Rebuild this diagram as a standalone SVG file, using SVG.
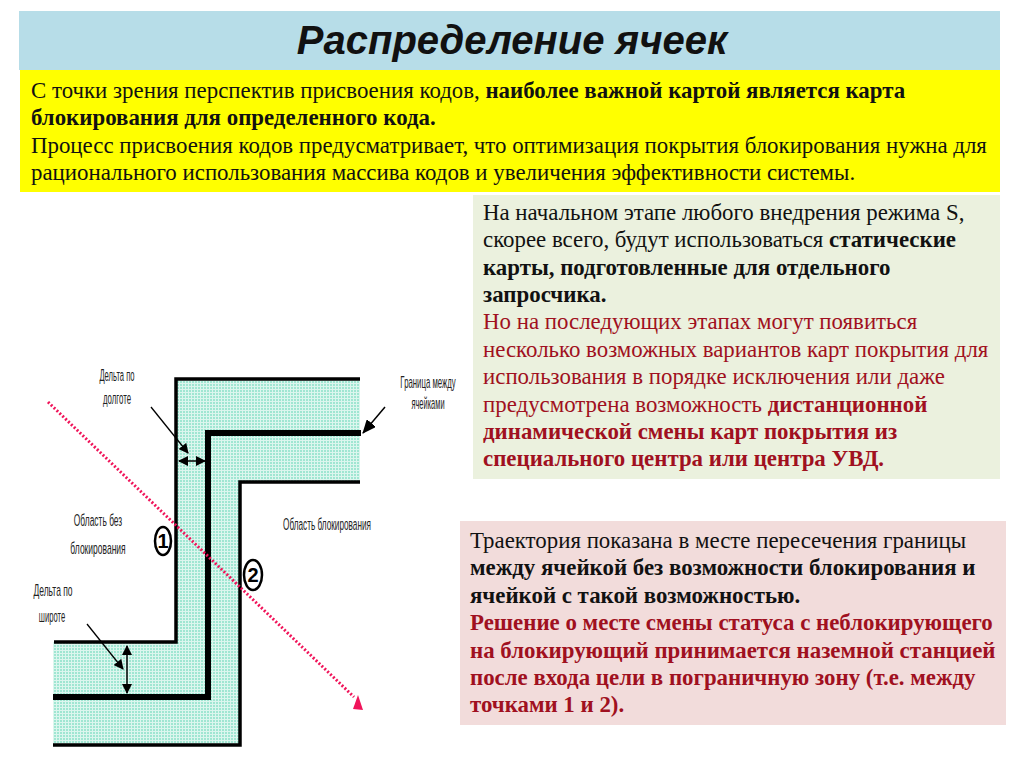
<svg xmlns="http://www.w3.org/2000/svg" width="1024" height="767" viewBox="0 0 1024 767">
<style>
.t{font-family:"Liberation Serif",serif;font-size:22.87px;fill:#111}
.b{font-weight:bold}
.r{fill:#a01020}
.s{font-family:"Liberation Sans",sans-serif;font-size:17px;fill:#222;text-anchor:middle}
.d{font-family:"Liberation Sans",sans-serif;font-size:20px;font-weight:bold;text-anchor:middle;fill:#000}
.l{fill:none;stroke:#000}
.o{fill:#fff;stroke:#000;stroke-width:2.5}
</style>
<defs>
<pattern id="h" width="3" height="3" patternUnits="userSpaceOnUse"><rect width="3" height="3" fill="#dcf6ee"/><rect width="2" height="2" fill="#a0e6d2"/></pattern>
<marker id="a" markerWidth="10" markerHeight="10" refX="9" refY="5" orient="auto-start-reverse" markerUnits="userSpaceOnUse"><path d="M0 0L10 5L0 10Z" fill="#000"/></marker>
<marker id="c" markerWidth="14" markerHeight="12" refX="13" refY="6" orient="auto" markerUnits="userSpaceOnUse"><path d="M0 0L14 6L0 12Z" fill="#000"/></marker>
</defs>
<rect width="1024" height="767" fill="#fff"/>
<g id="title"><rect x="19" y="11" width="981" height="59" fill="#b7dde8"/><text x="512" y="54" font-family="Liberation Sans,sans-serif" font-size="40" font-weight="bold" font-style="italic" text-anchor="middle" fill="#111">Распределение ячеек</text></g>
<g id="intro"><rect x="20" y="70" width="980" height="122" fill="#ffff00"/>
<text class="t" x="31" y="98">С точки зрения перспектив присвоения кодов, <tspan class="b">наиболее важной картой является карта</tspan></text>
<text class="t b" x="31" y="125">блокирования для определенного кода.</text>
<text class="t" x="31" y="153">Процесс присвоения кодов предусматривает, что оптимизация покрытия блокирования нужна для</text>
<text class="t" x="31" y="180">рационального использования массива кодов и увеличения эффективности системы.</text></g>
<g id="note1"><rect x="473" y="195" width="527" height="284" fill="#ebf1de"/>
<text class="t" x="483" y="220">На начальном этапе любого внедрения режима S,</text>
<text class="t" x="483" y="247">скорее всего, будут использоваться <tspan class="b">статические</tspan></text>
<text class="t b" x="483" y="275">карты, подготовленные для отдельного</text>
<text class="t b" x="483" y="302">запросчика.</text>
<text class="t r" x="483" y="329">Но на последующих этапах могут появиться</text>
<text class="t r" x="483" y="357">несколько возможных вариантов карт покрытия для</text>
<text class="t r" x="483" y="384">использования в порядке исключения или даже</text>
<text class="t r" x="483" y="412">предусмотрена возможность <tspan class="b">дистанционной</tspan></text>
<text class="t r b" x="483" y="439">динамической смены карт покрытия из</text>
<text class="t r b" x="483" y="466">специального центра или центра УВД.</text></g>
<g id="note2"><rect x="460" y="521" width="546" height="204" fill="#f2dcdb"/>
<text class="t" x="470" y="548">Траектория показана в месте пересечения границы</text>
<text class="t b" x="470" y="575">между ячейкой без возможности блокирования и</text>
<text class="t b" x="470" y="603">ячейкой с такой возможностью.</text>
<text class="t r b" x="470" y="630">Решение о месте смены статуса с неблокирующего</text>
<text class="t r b" x="470" y="658">на блокирующий принимается наземной станцией</text>
<text class="t r b" x="470" y="685">после входа цели в пограничную зону (т.е. между</text>
<text class="t r b" x="470" y="712">точками 1 и 2).</text></g>
<g id="band"><path d="M176 379H360V482H240V745H53V642H176Z" fill="url(#h)"/></g>
<g id="connectors">
<path class="l" stroke-width="3.5" d="M360 379H176V642H54"/>
<path class="l" stroke-width="6" d="M361 433H208V697H53"/>
<path class="l" stroke-width="3.5" d="M360 482H240V745H53"/>
<path class="l" stroke-width="1.3" d="M151 407L188 453" marker-end="url(#a)"/>
<path class="l" stroke-width="1.5" d="M179 461H205" marker-start="url(#a)" marker-end="url(#a)"/>
<path class="l" stroke-width="1.5" d="M385 407L363 433" marker-end="url(#c)"/>
<path class="l" stroke-width="1.3" d="M87 624L123 669" marker-end="url(#a)"/>
<path class="l" stroke-width="1.5" d="M127 646V693" marker-start="url(#a)" marker-end="url(#a)"/>
<path fill="none" stroke="#f0145a" stroke-width="3" stroke-dasharray="2 2" d="M48 402L354 697"/>
<path d="M358 695L363 710L353 709Z" fill="#f0145a"/>
</g>
<g id="labels">
<text class="s" transform="translate(117 381) scale(.449 1)">Дельта по</text>
<text class="s" transform="translate(117 404) scale(.46 1)">долготе</text>
<text class="s" transform="translate(428 388) scale(.458 1)">Граница между</text>
<text class="s" transform="translate(428 409) scale(.44 1)">ячейками</text>
<text class="s" transform="translate(98 526) scale(.495 1)">Область без</text>
<text class="s" transform="translate(98 554) scale(.5 1)">блокирования</text>
<text class="s" transform="translate(327 530) scale(.483 1)">Область блокирования</text>
<text class="s" transform="translate(53 596) scale(.5 1)">Дельта по</text>
<text class="s" transform="translate(52 622) scale(.448 1)">широте</text>
</g>
<g id="m1"><ellipse class="o" cx="163" cy="541" rx="8" ry="14"/><text class="d" x="163" y="548">1</text></g>
<g id="m2"><ellipse class="o" cx="253" cy="575" rx="9" ry="15"/><text class="d" x="253" y="582">2</text></g>
</svg>
